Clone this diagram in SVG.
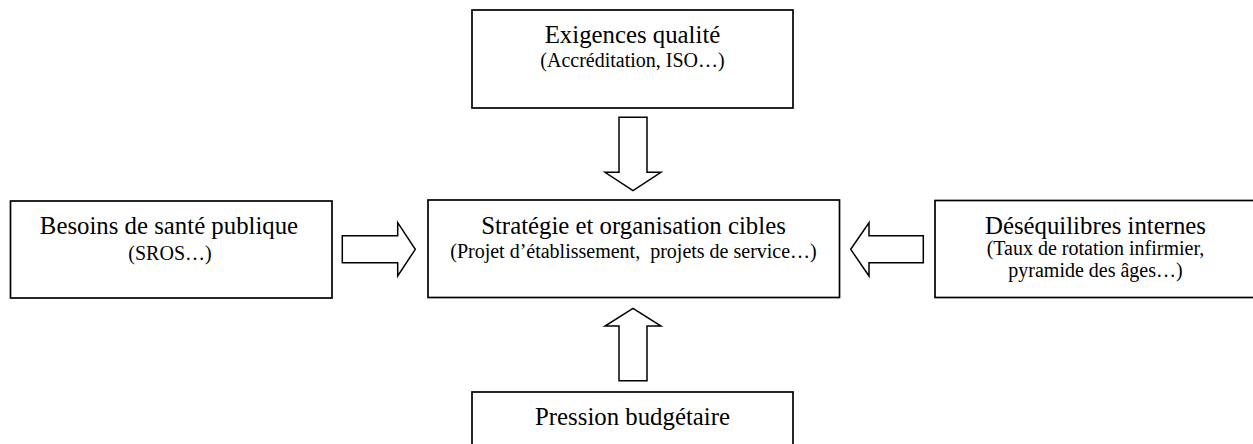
<svg xmlns="http://www.w3.org/2000/svg" width="1253" height="444" viewBox="0 0 1253 444">
  <style>
    .box { fill: #ffffff; stroke: #000000; stroke-width: 1.7; }
    .arrow { fill: #ffffff; stroke: #000000; stroke-width: 1.5; stroke-linejoin: miter; }
    .title { font-family: "Liberation Serif", "Times New Roman", serif; font-size: 24.8px; fill: #000000; text-anchor: middle; }
    .sub { font-family: "Liberation Serif", "Times New Roman", serif; font-size: 20px; fill: #000000; text-anchor: middle; }
  </style>
  <rect width="1253" height="444" fill="#ffffff"/>

  <!-- block arrows pointing into the central box -->
  <g id="connectors">
    <polygon class="arrow" points="619,117.3 647,117.3 647,172.3 661,172.3 633,190.7 605,172.3 619,172.3"/>
    <polygon class="arrow" points="619,380.7 647,380.7 647,326 661,326 633,308.3 605,326 619,326"/>
    <polygon class="arrow" points="342.3,235.7 397.7,235.7 397.7,222.7 415.3,249.3 397.7,276 397.7,262.7 342.3,262.7"/>
    <polygon class="arrow" points="923.3,235.7 869,235.7 869,222.7 850.7,249.3 869,276 869,262.7 923.3,262.7"/>
  </g>

  <g id="node-qualite">
    <rect class="box" x="472" y="10" width="321" height="98"/>
    <text class="title" x="632.5" y="43.3">Exigences qualité</text>
    <text class="sub" x="632.5" y="66.7">(Accréditation, ISO…)</text>
  </g>

  <g id="node-sante">
    <rect class="box" x="10.5" y="201" width="321.5" height="97"/>
    <text class="title" x="169" y="234">Besoins de santé publique</text>
    <text class="sub" x="170" y="259.5">(SROS…)</text>
  </g>

  <g id="node-strategie">
    <rect class="box" x="428" y="200" width="411.5" height="97.5"/>
    <text class="title" x="633.5" y="234.3">Stratégie et organisation cibles</text>
    <text class="sub" x="633.5" y="258.3" xml:space="preserve">(Projet d’établissement,  projets de service…)</text>
  </g>

  <g id="node-desequilibres">
    <rect class="box" x="935" y="200.5" width="322" height="97"/>
    <text class="title" x="1095.5" y="233.8">Déséquilibres internes</text>
    <text class="sub" x="1095.5" y="255.3">(Taux de rotation infirmier,</text>
    <text class="sub" x="1095.5" y="276.7">pyramide des âges…)</text>
  </g>

  <g id="node-budget">
    <rect class="box" x="472" y="392" width="321" height="70"/>
    <text class="title" x="632.5" y="425">Pression budgétaire</text>
  </g>
</svg>
